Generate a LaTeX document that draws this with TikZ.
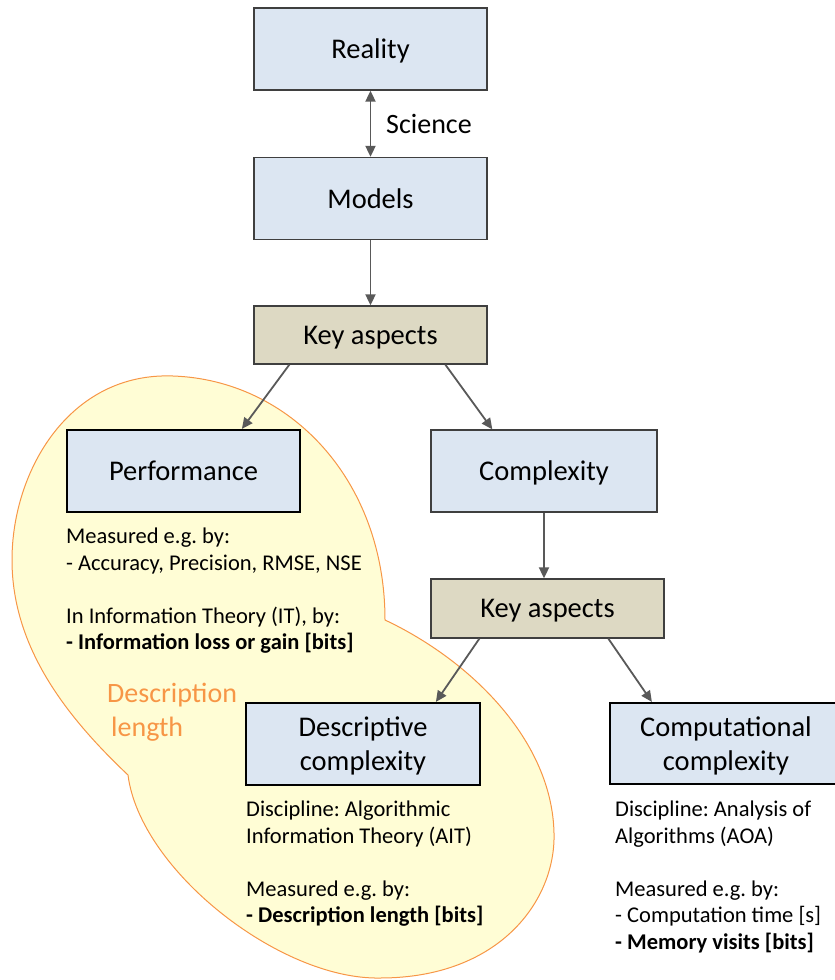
\documentclass[tikz,border=0pt]{standalone}
\usepackage{fontspec}
\setmainfont{Carlito}
\usetikzlibrary{arrows.meta}
\definecolor{boxblue}{HTML}{DCE6F2}
\definecolor{boxtan}{HTML}{DDD9C3}
\definecolor{blobfill}{HTML}{FFFDD5}
\definecolor{bloborange}{HTML}{F79646}
\definecolor{arrowgray}{HTML}{595959}
\definecolor{edgegray}{HTML}{3F3F3F}
\frenchspacing
\begin{document}
\begin{tikzpicture}[x=1pt,y=-1pt,
  >={Triangle[length=11pt,width=10pt]},
  box/.style={draw=edgegray, line width=1.3pt, fill=boxblue, minimum width=233pt,
    minimum height=82pt, inner sep=0pt, text depth=0pt,
    font=\fontsize{28.5}{34}\selectfont, align=center},
  boldbox/.style={box, draw=black, line width=2.2pt},
  keybox/.style={box, fill=boxtan, minimum height=58pt},
  link/.style={draw=arrowgray, line width=1.8pt, ->},
  note/.style={anchor=north west, inner sep=0pt, align=left,
    font=\fontsize{22.5}{26.5}\selectfont}
]
\useasboundingbox (0,0) rectangle (835,980);

% yellow "description length" region: upper lobe, then lower lobe
\filldraw[draw=bloborange, fill=blobfill, line width=1pt]
  (385,620) .. controls (385,480) and (290,380) .. (173,376)
  .. controls (70,372) and (12,470) .. (12,560)
  .. controls (12,650) and (70,720) .. (128,775)
  .. controls (140,870) and (280,980) .. (380,978)
  .. controls (500,978) and (556,900) .. (554,833)
  .. controls (552,740) and (470,660) .. (385,620)
  -- cycle;

% boxes
\node[box] (reality) at (370.5,49) {Reality};
\node[box] (models) at (370.5,198.5) {Models};
\node[keybox] (key1) at (370.5,335) {Key aspects};
\node[boldbox] (perf) at (183.5,471) {Performance};
\node[box, minimum width=226pt] (cplx) at (544,471) {Complexity};
\node[keybox, minimum height=59pt] (key2) at (547.5,608.5) {Key aspects};
\node[boldbox, minimum width=234pt] (desc) at (363,744) {Descriptive\\complexity};
\node[boldbox, minimum width=232pt, minimum height=81pt] (comp) at (726,743.5) {Computational\\complexity};

% labels
\node[anchor=base west, inner sep=0pt, font=\fontsize{28}{34}\selectfont] (sci) at (386,133) {Science};
\node[anchor=north west, inner sep=0pt, align=left, text=bloborange,
  font=\fontsize{28}{34}\selectfont] (dl) at (107,683) {Description\\\hspace*{4pt}length};

\node[note] (perfnote) at (66,528) {Measured e.g. by:\\- Accuracy, Precision, RMSE, NSE\\[26.5pt]In Information Theory (IT), by:\\\textbf{- Information loss or gain [bits]}};
\node[note] (descnote) at (246,801) {Discipline: Algorithmic\\Information Theory (AIT)\\[26.5pt]Measured e.g. by:\\\textbf{- Description length [bits]}};
\node[note] (compnote) at (615,801) {Discipline: Analysis of\\Algorithms (AOA)\\[26.5pt]Measured e.g. by:\\- Computation time [s]\\\textbf{- Memory visits [bits]}};

% connectors
\draw[link, <->] (reality) -- (models);
\draw[link] (models) -- (key1);
\draw[link] ([xshift=36pt]key1.south west) -- ([xshift=176pt]perf.north west);
\draw[link] ([xshift=192pt]key1.south west) -- ([xshift=62pt]cplx.north west);
\draw[link] (cplx.south) -- (cplx.south |- key2.north);
\draw[link] ([xshift=49pt]key2.south west) -- ([xshift=191pt]desc.north west);
\draw[link] ([xshift=178pt]key2.south west) -- ([xshift=43pt]comp.north west);
\end{tikzpicture}
\end{document}
